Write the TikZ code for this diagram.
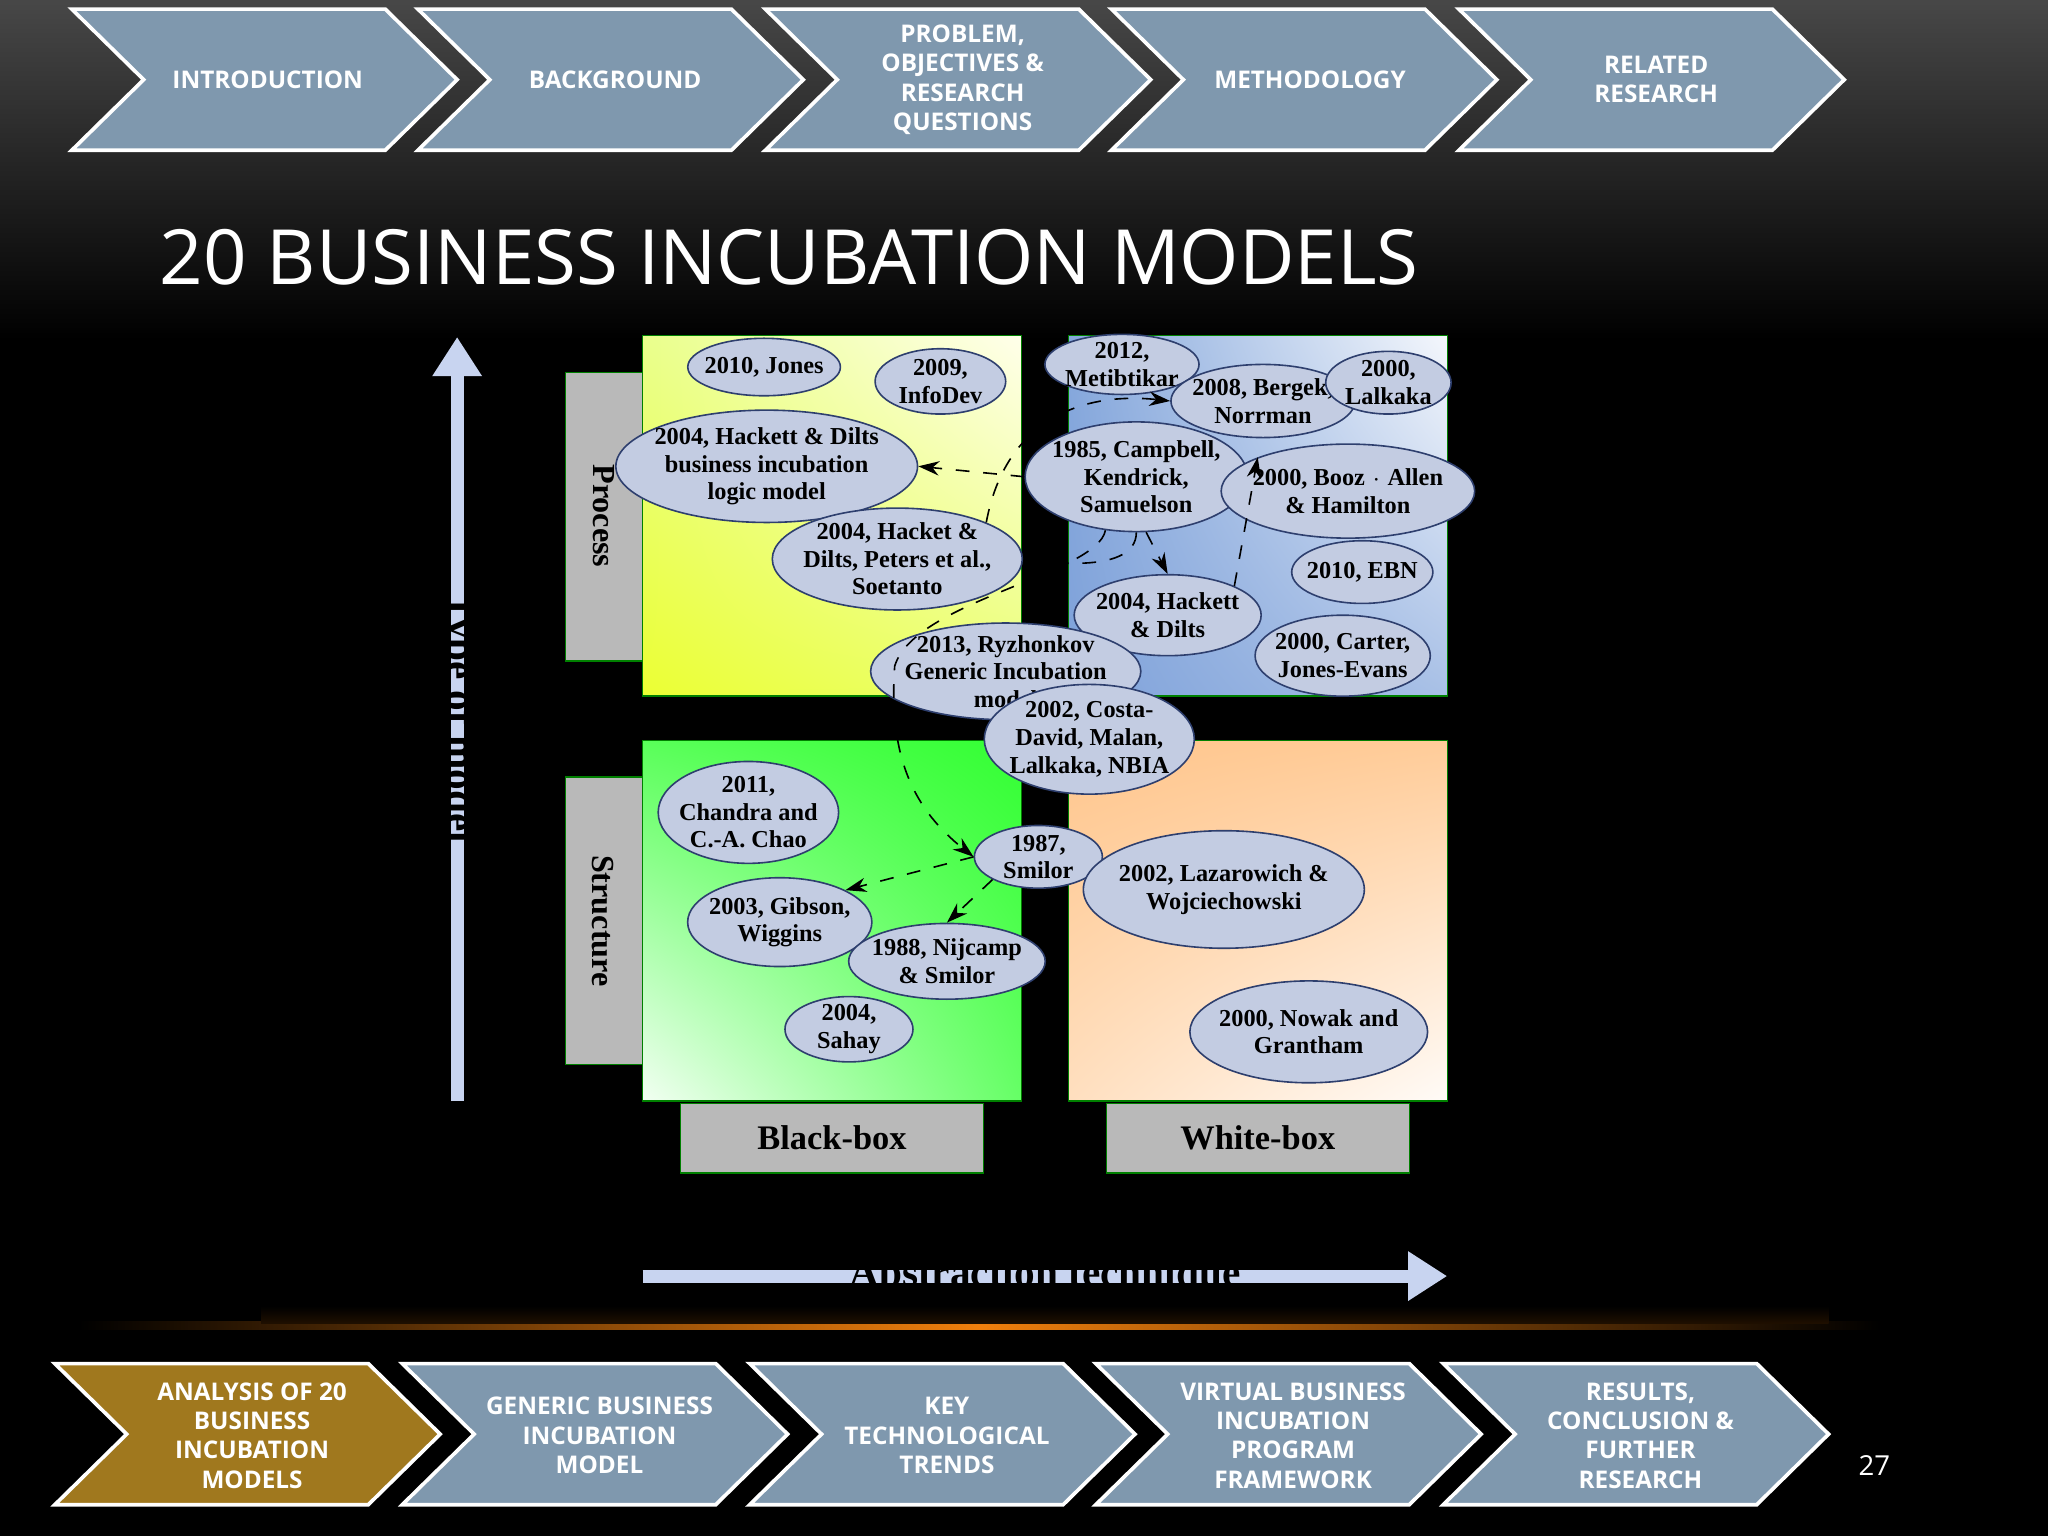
\documentclass[tikz,border=0pt]{standalone}
\usepackage{fontspec}
\setmainfont{Liberation Serif}
\newfontfamily\osans{Open Sans}
\usetikzlibrary{shapes.geometric,arrows.meta,shadings}
\definecolor{chev}{HTML}{7F98AE}
\definecolor{gold}{HTML}{A0781E}
\definecolor{ellf}{HTML}{C3CCE2}
\definecolor{elld}{HTML}{2E3F6E}
\definecolor{arr}{HTML}{C8D4F0}
\definecolor{bl1}{HTML}{7FA2DA}
\definecolor{bl2}{HTML}{F4F7FC}
\definecolor{bl3}{HTML}{86A8DC}
\definecolor{bl4}{HTML}{A8C0E6}
\tikzset{
  ell/.style={ellipse,draw=elld,line width=0.35pt,fill=ellf,inner sep=-1.2pt,align=center,font=\fontsize{5.3}{6}\selectfont\bfseries},
  sz/.style 2 args={minimum width=#1*0.1mm,minimum height=#2*0.1mm},
  chtext/.style={text=white,align=center,font=\osans\fontsize{5.3}{6.4}\selectfont\bfseries},
  graybox/.style={draw=green!50!black,line width=0.3pt,fill=gray!55},
  dsh/.style={dashed,line width=0.35pt,-{Stealth[length=1.6mm,width=1.1mm]}},
}
\newcommand{\chevron}[4]{% x, y, color, text
  \draw[white,line width=0.8pt,fill=#3] (#1,#2) -- ++(240,0) -- ++(55,54) -- ++(-55,54) -- ++(-240,0) -- ++(55,-54) -- cycle;
}
\begin{document}
\begin{tikzpicture}[x=0.1mm,y=-0.1mm]
\useasboundingbox (0,0) rectangle (1568,1176);
\fill[black] (0,0) rectangle (1568,1176);
\shade[top color=black!72,bottom color=black] (0,0) rectangle (1568,260);
\shade[left color=black,right color=black,middle color=orange!80!brown] (60,1012) rectangle (1440,1018);
\shade[top color=black,bottom color=black!80!orange!60!black] (200,1000) rectangle (1400,1013);
% top chevrons
\chevron{55}{7}{chev}{}
\chevron{320}{7}{chev}{}
\chevron{586}{7}{chev}{}
\chevron{851}{7}{chev}{}
\chevron{1117}{7}{chev}{}
\node[chtext] (t1) at (205,61) {INTRODUCTION};
\node[chtext] (t2) at (471,61) {BACKGROUND};
\node[chtext] (t3) at (737,61) {PROBLEM,\\OBJECTIVES \&\\RESEARCH\\QUESTIONS};
\node[chtext] (t4) at (1003,61) {METHODOLOGY};
\node[chtext] (t5) at (1268,61) {RELATED\\RESEARCH};
% bottom chevrons
\chevron{42}{1044}{gold}{}
\chevron{308}{1044}{chev}{}
\chevron{574}{1044}{chev}{}
\chevron{839}{1044}{chev}{}
\chevron{1105}{1044}{chev}{}
\node[chtext] (b1) at (193,1099) {ANALYSIS OF 20\\BUSINESS\\INCUBATION\\MODELS};
\node[chtext] (b2) at (459,1099) {GENERIC BUSINESS\\INCUBATION\\MODEL};
\node[chtext] (b3) at (725,1099) {KEY\\TECHNOLOGICAL\\TRENDS};
\node[chtext] (b4) at (990,1099) {VIRTUAL BUSINESS\\INCUBATION\\PROGRAM\\FRAMEWORK};
\node[chtext] (b5) at (1256,1099) {RESULTS,\\CONCLUSION \&\\FURTHER\\RESEARCH};
\node[text=white,font=\osans\fontsize{6}{7}\selectfont] (pg) at (1435,1122) {27};
% title
\node[anchor=west,text=white,font=\osans\fontsize{16.6}{19}\selectfont] (title) at (110,197) {20 BUSINESS INCUBATION MODELS};
% axes
\draw[arr,line width=2.8pt,-{Triangle[length=3mm,width=3.6mm]}] (350,843) -- (350,258);
\node[rotate=-90,font=\fontsize{9}{10}\selectfont\bfseries] (ylab) at (350,550) {Type of model};
\draw[arr,line width=2.8pt,-{Triangle[length=3mm,width=3.6mm]}] (492,977) -- (1108,977);
\node[font=\fontsize{9}{10}\selectfont\bfseries] (xlab) at (800,977) {Abstraction technique};
% gray labels
\draw[graybox] (433,285) rectangle (492,506);
\node[rotate=-90,font=\fontsize{7}{8}\selectfont\bfseries] (proc) at (462,395) {Process};
\draw[graybox] (433,595) rectangle (492,815);
\node[rotate=-90,font=\fontsize{7}{8}\selectfont\bfseries] (struc) at (462,705) {Structure};
\draw[graybox] (521,845) rectangle (753,898);
\node[font=\fontsize{7.5}{8}\selectfont\bfseries] (bb) at (637,871) {Black-box};
\draw[graybox] (847,845) rectangle (1079,898);
\node[font=\fontsize{7.5}{8}\selectfont\bfseries] (wb) at (963,871) {White-box};
% quadrants
\shade[upper left=yellow!25!lime!45!white,upper right=yellow!8!white,lower left=yellow!60!lime!80!white,lower right=yellow!40!lime!55!white] (492,257) rectangle (782,533);
\draw[green!50!black,line width=0.3pt] (492,257) rectangle (782,533);
\shade[upper left=bl3,upper right=bl2,lower left=bl1,lower right=bl4] (818,257) rectangle (1108,533);
\draw[green!50!black,line width=0.3pt] (818,257) rectangle (1108,533);
\shade[upper left=green!65!white,upper right=green!80!white,lower left=green!5!white,lower right=green!60!white] (492,567) rectangle (782,843);
\draw[green!50!black,line width=0.3pt] (492,567) rectangle (782,843);
\shade[upper left=orange!45!white,upper right=orange!40!white,lower left=orange!25!white,lower right=orange!3!white] (818,567) rectangle (1108,843);
\draw[green!50!black,line width=0.3pt] (818,567) rectangle (1108,843);
% ellipses
\node[ell,sz={100}{44}] (e1) at (585,281) {2010, Jones};
\node[ell,sz={100}{50}] (e2) at (720,292) {2009,\\InfoDev};
\node[ell,sz={212}{86}] (e3) at (587,357) {2004, Hackett \& Dilts\\business incubation\\logic model};
\node[ell,sz={154}{78}] (e4) at (687,428) {2004, Hacket \&\\Dilts, Peters et al.,\\Soetanto};
\node[ell,sz={118}{46}] (e5) at (859,279) {2012,\\Metibtikar};
\node[ell,sz={118}{56}] (e6) at (967,307) {2008, Bergek,\\Norrman};
\node[ell,sz={96}{48}] (e7) at (1063,293) {2000,\\Lalkaka};
\node[ell,sz={164}{84}] (e8) at (870,365) {1985, Campbell,\\Kendrick,\\Samuelson};
\node[ell,sz={156}{72}] (e9) at (1032,376) {2000, Booz $\cdot$ Allen\\\& Hamilton};
\node[ell,sz={98}{48}] (e10) at (1043,438) {2010, EBN};
\node[ell,sz={122}{62}] (e11) at (894,471) {2004, Hackett\\\& Dilts};
\node[ell,sz={124}{62}] (e12) at (1028,502) {2000, Carter,\\Jones-Evans};
\node[ell,sz={176}{74}] (e13) at (770,514) {2013, Ryzhonkov\\Generic Incubation\\model};
\node[ell,sz={140}{84}] (e14) at (834,566) {2002, Costa-\\David, Malan,\\Lalkaka, NBIA};
\node[ell,sz={120}{78}] (e15) at (573,622) {2011,\\Chandra and\\C.-A. Chao};
\node[ell,sz={98}{48}] (e16) at (795,656) {1987,\\Smilor};
\node[ell,sz={140}{68}] (e17) at (597,706) {2003, Gibson,\\Wiggins};
\node[ell,sz={132}{58}] (e18) at (725,736) {1988, Nijcamp\\\& Smilor};
\node[ell,sz={98}{50}] (e19) at (650,788) {2004,\\Sahay};
\node[ell,sz={178}{90}] (e20) at (937,681) {2002, Lazarowich \&\\Wojciechowski};
\node[ell,sz={168}{78}] (e21) at (1002,790) {2000, Nowak and\\Grantham};
% connectors
\draw[dsh] (e8.west) -- (e3.east);
\draw[dsh] (e4.north east) .. controls (770,320) and (830,300) .. (e6.west);
\draw[dsh] (e8.south) .. controls (870,440) and (800,430) .. (e4.east);
\draw[dsh] (e8.-80) -- (e11.north);
\draw[dsh] (e11.north east) -- (e9.north west);
\draw[dsh] (e8.-120) .. controls (840,440) and (700,460) .. (685,510) .. controls (680,580) and (700,620) .. (e16.west);
\draw[dsh] (e16.west) -- (e17.north east);
\draw[dsh] (e16.south west) -- (e18.north);
\end{tikzpicture}
\end{document}
